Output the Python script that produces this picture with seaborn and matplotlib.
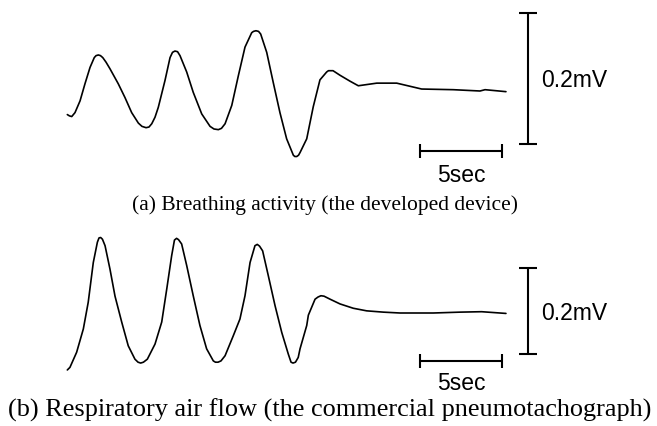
import matplotlib
matplotlib.use("Agg")
import matplotlib.pyplot as plt
import seaborn as sns
import pandas as pd

# ---- data (time in s, amplitude in mV) ----
device_t = [0.02, 0.15, 0.29, 0.49, 0.80, 1.10, 1.41, 1.67, 1.78, 1.92, 2.05, 2.19, 2.39, 2.63,
            3.14, 3.55, 3.96, 4.37, 4.59, 4.84, 5.02, 5.19, 5.39, 5.59, 6.00, 6.31, 6.46, 6.61,
            6.77, 6.92, 7.33, 7.73, 8.25, 8.76, 9.00, 9.27, 9.46, 9.68, 10.09, 10.49, 10.90,
            11.31, 11.42, 11.57, 11.73, 11.86, 12.23, 12.63, 13.04, 13.45, 13.86, 13.95, 14.07,
            14.18, 14.27, 14.68, 15.08, 15.49, 15.90, 16.01, 16.15, 16.29, 16.72, 17.33, 17.84,
            18.97, 20.19, 21.72, 23.66, 25.29, 25.60, 26.88]
device_v = [-0.036, -0.038, -0.039, -0.033, -0.015, 0.011, 0.036, 0.051, 0.054, 0.055, 0.054,
            0.051, 0.044, 0.034, 0.011, -0.010, -0.033, -0.049, -0.054, -0.056, -0.055, -0.050,
            -0.040, -0.025, 0.016, 0.051, 0.059, 0.061, 0.060, 0.054, 0.029, -0.002, -0.035,
            -0.054, -0.058, -0.059, -0.057, -0.050, -0.022, 0.023, 0.067, 0.089, 0.091, 0.092,
            0.091, 0.087, 0.059, 0.013, -0.033, -0.073, -0.098, -0.100, -0.100, -0.098, -0.094,
            -0.073, -0.024, 0.017, 0.029, 0.031, 0.031, 0.031, 0.024, 0.015, 0.008, 0.012,
            0.012, 0.003, 0.002, 0.000, 0.002, -0.001]

flow_t = [0.02, 0.18, 0.59, 1.00, 1.30, 1.61, 1.86, 1.96, 2.06, 2.17, 2.33, 2.63, 2.94, 3.35,
          3.75, 4.16, 4.35, 4.51, 4.68, 4.92, 5.39, 5.80, 6.11, 6.41, 6.58, 6.71, 6.83, 7.02,
          7.33, 7.73, 8.14, 8.55, 8.96, 9.09, 9.25, 9.43, 9.68, 10.18, 10.59, 10.90, 11.21,
          11.51, 11.65, 11.79, 11.98, 12.33, 12.74, 13.15, 13.55, 13.72, 13.84, 13.99, 14.16,
          14.27, 14.68, 14.78, 15.19, 15.37, 15.55, 15.74, 16.11, 16.72, 17.53, 18.35, 19.37,
          20.39, 22.43, 24.07, 25.39, 26.88]
flow_v = [-0.132, -0.126, -0.091, -0.037, 0.025, 0.117, 0.164, 0.174, 0.175, 0.171, 0.156,
          0.102, 0.039, -0.021, -0.076, -0.107, -0.114, -0.116, -0.114, -0.107, -0.072, -0.021,
          0.056, 0.133, 0.169, 0.173, 0.170, 0.160, 0.110, 0.040, -0.029, -0.083, -0.111,
          -0.114, -0.114, -0.111, -0.099, -0.053, -0.014, 0.040, 0.117, 0.156, 0.159, 0.155,
          0.144, 0.086, 0.017, -0.045, -0.095, -0.114, -0.116, -0.114, -0.103, -0.083, -0.029,
          -0.005, 0.032, 0.037, 0.040, 0.039, 0.032, 0.021, 0.011, 0.005, 0.002, 0.000, 0.000,
          0.002, 0.003, -0.001]

scale_time = 5.0      # s
scale_volt = 0.2      # mV
time_label = "5sec"
volt_label = "0.2mV"
captions = ["(a) Breathing activity (the developed device)",
            "(b) Respiratory air flow (the commercial pneumotachograph)"]

sns.set_theme(style="white")
plt.rcParams["font.family"] = ["Liberation Sans", "DejaVu Sans"]

W, H = 657, 427
fig = plt.figure(figsize=(W / 100, H / 100), dpi=100)

px_per_s = 16.33
x0 = 67.0
xlim = (-x0 / px_per_s, (W - x0) / px_per_s)

panels = [
    dict(t=device_t, v=device_v, ptop=0, pbot=190, ppm=655.0, y0=92.0,
         vbar_lo=-0.0814, hbar_v=-0.092, hcap=0.0107, vlab=0.018, tlab=-0.127),
    dict(t=flow_t, v=flow_v, ptop=220, pbot=400, ppm=431.5, y0=314.0,
         vbar_lo=-0.0956, hbar_v=-0.112, hcap=0.0162, vlab=0.0016, tlab=-0.1606),
]

for p in panels:
    ax = fig.add_axes([0, (H - p["pbot"]) / H, 1, (p["pbot"] - p["ptop"]) / H])
    df = pd.DataFrame({"t": p["t"], "v": p["v"]})
    sns.lineplot(data=df, x="t", y="v", ax=ax, color="black", lw=1.2,
                 sort=False, estimator=None, solid_joinstyle="round",
                 solid_capstyle="round")
    ax.set_xlim(*xlim)
    ax.set_ylim((p["y0"] - p["pbot"]) / p["ppm"], (p["y0"] - p["ptop"]) / p["ppm"])
    ax.axis("off")

    # vertical (voltage) scale bar
    vx = 28.25
    lo = p["vbar_lo"]
    hi = lo + scale_volt
    ax.plot([vx, vx], [lo, hi], color="black", lw=1.5, solid_capstyle="butt")
    for yy in (lo, hi):
        ax.plot([vx - 0.55, vx + 0.55], [yy, yy], color="black", lw=1.5, solid_capstyle="butt")
    ax.text(29.03, p["vlab"], volt_label, ha="left", va="center", fontsize=16.5, color="black")

    # horizontal (time) scale bar
    t1 = 21.62
    t2 = t1 + scale_time
    hv = p["hbar_v"]
    ax.plot([t1, t2], [hv, hv], color="black", lw=1.5, solid_capstyle="butt")
    for tt in (t1, t2):
        ax.plot([tt, tt], [hv - p["hcap"], hv + p["hcap"]], color="black", lw=1.5,
                solid_capstyle="butt")
    ax.text((t1 + t2) / 2, p["tlab"], time_label, ha="center", va="center", fontsize=16.5,
            color="black")

fig.text(325 / W, 1 - 205 / H, captions[0], ha="center", va="center", fontsize=15.5,
         family=["Liberation Serif", "DejaVu Serif"], color="black")
fig.text(330 / W, 1 - 410 / H, captions[1], ha="center", va="center", fontsize=18.9,
         family=["Liberation Serif", "DejaVu Serif"], color="black")

fig.savefig("out.png", dpi=100, facecolor="white")
